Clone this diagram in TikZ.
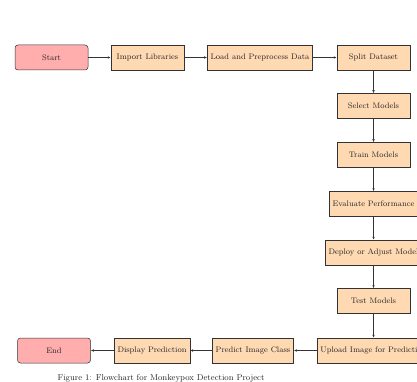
\documentclass[tikz,border=0pt]{standalone}
\usetikzlibrary{arrows.meta}
\begin{document}
\begin{tikzpicture}[x=1pt,y=-1pt,
  base/.style={draw=black!80, line width=0.5pt, minimum height=25pt, minimum width=73pt, inner sep=3.3pt, font=\fontsize{8}{9.6}\selectfont, text=black!85},
  term/.style={base, fill=red!32, rounded corners=3pt},
  proc/.style={base, fill=orange!30},
  arr/.style={-{Latex[length=3pt,width=2.4pt]}, draw=black!80, line width=0.5pt}]
\clip (0,0) rectangle (417,382);
\fill[white] (0,0) rectangle (417,382);
\node[term] (start) at (51.5,57.5) {Start};
\node[proc] (imp) at (147.5,57.5) {Import Libraries};
\node[proc] (load) at (260,57.5) {Load and Preprocess Data};
\node[proc] (split) at (373.5,57.5) {Split Dataset};
\node[proc] (sel) at (373.5,106) {Select Models};
\node[proc] (train) at (373.5,155) {Train Models};
\node[proc] (eval) at (373.5,204) {Evaluate Performance};
\node[proc] (deploy) at (373.5,252.5) {Deploy or Adjust Model};
\node[proc] (test) at (373.5,301) {Test Models};
\node[proc] (upload) at (373.5,350.5) {Upload Image for Prediction};
\node[proc] (pred) at (253,350.5) {Predict Image Class};
\node[proc] (disp) at (152,350.5) {Display Prediction};
\node[term] (end) at (54,350.5) {End};
\node[font=\fontsize{8.5}{10}\selectfont, text=black!85] (cap) at (161,378) {Figure 1: Flowchart for Monkeypox Detection Project};
\draw[arr] (start) -- (imp);
\draw[arr] (imp) -- (load);
\draw[arr] (load) -- (split);
\draw[arr] (split) -- (sel);
\draw[arr] (sel) -- (train);
\draw[arr] (train) -- (eval);
\draw[arr] (eval) -- (deploy);
\draw[arr] (deploy) -- (test);
\draw[arr] (test) -- (upload);
\draw[arr] (upload) -- (pred);
\draw[arr] (pred) -- (disp);
\draw[arr] (disp) -- (end);
\end{tikzpicture}
\end{document}
